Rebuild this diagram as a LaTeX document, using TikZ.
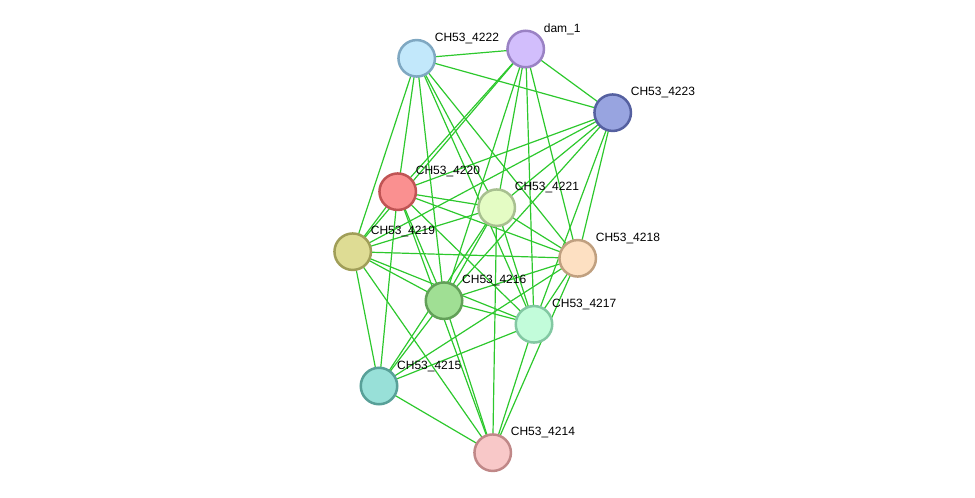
\documentclass[tikz,border=0pt]{standalone}
\usepackage{fontspec}
\setmainfont{Liberation Sans}
\usetikzlibrary{backgrounds}
\begin{document}
\begin{tikzpicture}[x=1pt,y=-1pt,
  prot/.style={circle,minimum size=36.5pt,inner sep=0pt,line width=2.5pt},
  lbl/.style={anchor=base west,inner sep=0pt,font=\fontsize{12}{14}\selectfont},
  edge/.style={draw={rgb,255:red,45;green,200;blue,45},line width=1.2pt}]
\useasboundingbox (0,0) rectangle (975,498);
\definecolor{fA}{HTML}{C2E8FB}\definecolor{bA}{HTML}{7FA8C2}
\definecolor{fB}{HTML}{D2BEFC}\definecolor{bB}{HTML}{9A82C4}
\definecolor{fC}{HTML}{98A4E0}\definecolor{bC}{HTML}{5560A0}
\definecolor{fD}{HTML}{FA9090}\definecolor{bD}{HTML}{C05454}
\definecolor{fE}{HTML}{E4FCC4}\definecolor{bE}{HTML}{A8C090}
\definecolor{fF}{HTML}{DEDC94}\definecolor{bF}{HTML}{A09E58}
\definecolor{fG}{HTML}{FDE0C2}\definecolor{bG}{HTML}{C0A080}
\definecolor{fH}{HTML}{A0DF94}\definecolor{bH}{HTML}{62A058}
\definecolor{fI}{HTML}{C2FCDA}\definecolor{bI}{HTML}{82C8A2}
\definecolor{fJ}{HTML}{98E0D8}\definecolor{bJ}{HTML}{58A098}
\definecolor{fK}{HTML}{F8C8C8}\definecolor{bK}{HTML}{C08888}
% nodes
\node[prot,fill=fA,draw=bA] (n4222) at (416.7,58.3) {};
\node[prot,fill=fB,draw=bB] (ndam) at (525.7,49) {};
\node[prot,fill=fC,draw=bC] (n4223) at (612.7,112.7) {};
\node[prot,fill=fD,draw=bD] (n4220) at (397.7,191.7) {};
\node[prot,fill=fE,draw=bE] (n4221) at (496.7,207.7) {};
\node[prot,fill=fF,draw=bF] (n4219) at (352.7,251.7) {};
\node[prot,fill=fG,draw=bG] (n4218) at (577.7,258.3) {};
\node[prot,fill=fH,draw=bH] (n4216) at (444,300.7) {};
\node[prot,fill=fI,draw=bI] (n4217) at (534,324.3) {};
\node[prot,fill=fJ,draw=bJ] (n4215) at (379,386) {};
\node[prot,fill=fK,draw=bK] (n4214) at (492.7,452.7) {};
% edges
\begin{scope}[on background layer]
\foreach \a/\b in {4222/dam,4222/4223,4222/4219,4222/4220,4222/4216,4222/4221,4222/4217,4222/4218,
  dam/4223,dam/4220,dam/4219,dam/4221,dam/4216,dam/4217,dam/4218,
  4223/4220,4223/4219,4223/4221,4223/4216,4223/4217,4223/4218,
  4220/4219,4220/4215,4220/4216,4220/4214,4220/4221,4220/4218,4220/4217,
  4219/4221,4219/4218,4219/4216,4219/4217,4219/4214,4219/4215,
  4221/4216,4221/4217,4221/4218,4221/4214,4221/4215,
  4216/4218,4216/4217,4216/4215,4216/4214,
  4217/4218,4217/4215,4217/4214,
  4218/4215,4218/4214,
  4215/4214}
  \draw[edge] (n\a.center) -- (n\b.center);
\end{scope}
% labels
\node[lbl] (l4222) at ([shift={(18,-17)}]n4222.center) {CH53\_4222};
\node[lbl] (ldam) at ([shift={(18,-17)}]ndam.center) {dam\_1};
\node[lbl] (l4223) at ([shift={(18,-17)}]n4223.center) {CH53\_4223};
\node[lbl] (l4220) at ([shift={(18,-17)}]n4220.center) {CH53\_4220};
\node[lbl] (l4221) at ([shift={(18,-17)}]n4221.center) {CH53\_4221};
\node[lbl] (l4219) at ([shift={(18,-17)}]n4219.center) {CH53\_4219};
\node[lbl] (l4218) at ([shift={(18,-17)}]n4218.center) {CH53\_4218};
\node[lbl] (l4216) at ([shift={(18,-17)}]n4216.center) {CH53\_4216};
\node[lbl] (l4217) at ([shift={(18,-17)}]n4217.center) {CH53\_4217};
\node[lbl] (l4215) at ([shift={(18,-17)}]n4215.center) {CH53\_4215};
\node[lbl] (l4214) at ([shift={(18,-17)}]n4214.center) {CH53\_4214};
\end{tikzpicture}
\end{document}
